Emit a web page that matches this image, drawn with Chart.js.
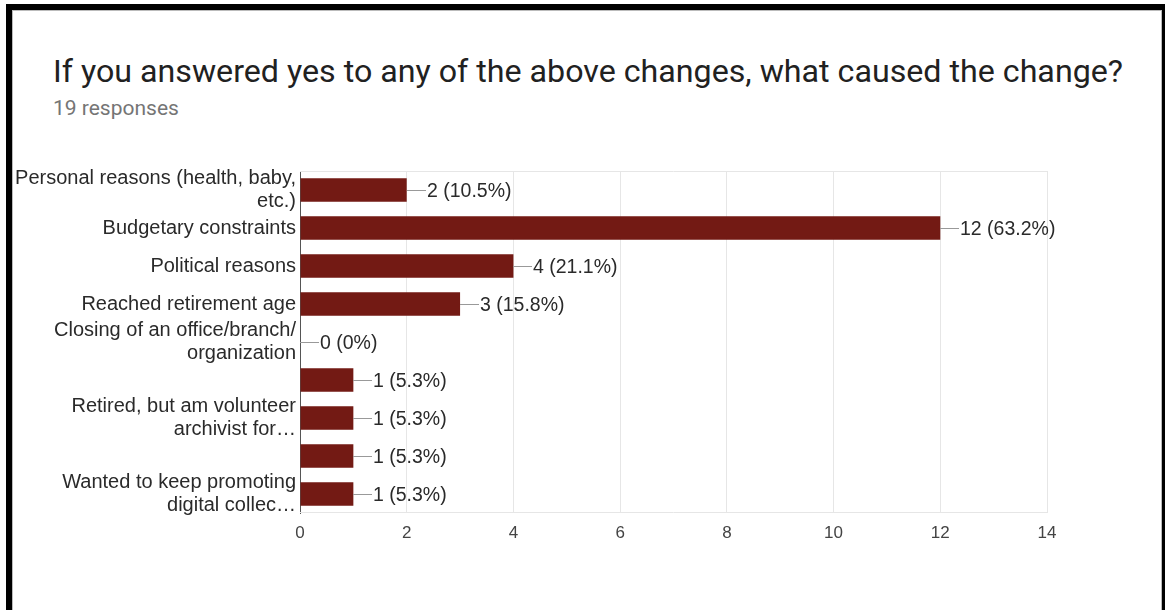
<!DOCTYPE html>
<html>
<head>
<meta charset="utf-8">
<script src="https://cdn.jsdelivr.net/npm/chart.js@4"></script>
<style>
    body { margin: 0; background: #fff; width: 1165px; height: 610px; overflow: hidden; position: relative; }
    #frame {
        position: absolute; left: 6px; top: 4px; width: 1150px; height: 640px;
        border-left: 6px solid #000; border-top: 6px solid #000; border-right: 3px solid #000;
    }
    #card {
        position: absolute; left: 0; top: 0; right: 0; bottom: 0;
        border-left: 1px solid #bbb; border-top: 1px solid #bbb; border-right: 1px solid #bbb;
    }
    #title {
        position: absolute; left: 53px; top: 55px; margin: 0;
        font: 400 32.2px/32px Roboto, sans-serif; color: #212121; white-space: nowrap;
    }
    #subtitle {
        position: absolute; left: 53px; top: 98px;
        font: 400 21px/21px Roboto, sans-serif; color: #757575;
    }
    #wrap { position: absolute; left: 10px; top: 160px; width: 1130px; height: 400px; }
</style>
</head>
<body>
<div id="frame"><div id="card"></div></div>
<h1 id="title">If you answered yes to any of the above changes, what caused the change?</h1>
<div id="subtitle">19 responses</div>
<div id="wrap"><canvas id="chart"></canvas></div>
<script>
    // categories (Forms hid two of the labels, kept blank here)
    const categorias = [
        ['Personal reasons (health, baby,', 'etc.)'],
        'Budgetary constraints',
        'Political reasons',
        'Reached retirement age',
        ['Closing of an office/branch/', 'organization'],
        '',
        ['Retired, but am volunteer', 'archivist for\u2026'],
        '',
        ['Wanted to keep promoting', 'digital collec\u2026']
    ];
    const respostas = [2, 12, 4, 3, 0, 1, 1, 1, 1];
    const percentuais = ['10.5%', '63.2%', '21.1%', '15.8%', '0%', '5.3%', '5.3%', '5.3%', '5.3%'];
    const ticksX = [0, 2, 4, 6, 8, 10, 12, 14];

    const fonteArial = "'Liberation Sans', Arial, sans-serif";

    const rotulosBarras = {
        id: 'rotulosBarras',
        beforeDatasetsDraw(chart) {
            // linhas claras em cima e embaixo da área do gráfico
            const { ctx, chartArea } = chart;
            ctx.save();
            ctx.strokeStyle = '#e6e6e6';
            ctx.lineWidth = 1;
            ctx.beginPath();
            ctx.moveTo(chartArea.left, chartArea.top + 0.5);
            ctx.lineTo(chartArea.right, chartArea.top + 0.5);
            ctx.moveTo(chartArea.left, chartArea.bottom - 0.5);
            ctx.lineTo(chartArea.right, chartArea.bottom - 0.5);
            ctx.stroke();
            ctx.restore();
        },
        afterDatasetsDraw(chart) {
            const ctx = chart.ctx;
            const meta = chart.getDatasetMeta(0);
            ctx.save();
            ctx.font = '19.5px ' + fonteArial;
            ctx.textBaseline = 'middle';
            ctx.textAlign = 'left';
            meta.data.forEach((bar, i) => {
                const x = Math.round(bar.x);
                const y = Math.round(bar.y) + 0.5;
                ctx.strokeStyle = '#999';
                ctx.lineWidth = 1;
                ctx.beginPath();
                ctx.moveTo(x, y);
                ctx.lineTo(x + 19, y);
                ctx.stroke();
                ctx.fillStyle = '#2a2a2a';
                ctx.fillText(`${respostas[i]} (${percentuais[i]})`, x + 20, y + 1);
            });
            ctx.restore();
        }
    };

    new Chart(document.getElementById('chart'), {
        type: 'bar',
        data: {
            labels: categorias,
            datasets: [{
                data: respostas,
                backgroundColor: '#731a14',
                borderWidth: 0,
                barPercentage: 0.62,
                categoryPercentage: 1
            }]
        },
        options: {
            indexAxis: 'y',
            responsive: true,
            maintainAspectRatio: false,
            animation: false,
            layout: { padding: { top: 11, right: 93, bottom: 0, left: 0 } },
            plugins: {
                legend: { display: false },
                tooltip: { enabled: false }
            },
            scales: {
                x: {
                    min: 0,
                    max: 14,
                    afterBuildTicks: (scale) => { scale.ticks = ticksX.map(v => ({ value: v })); },
                    afterFit: (scale) => { scale.height = 47; },
                    grid: { color: '#e6e6e6', drawTicks: false },
                    border: { display: false },
                    ticks: {
                        padding: 10,
                        color: '#444',
                        font: { family: fonteArial, size: 17 }
                    }
                },
                y: {
                    afterFit: (scale) => {
                        scale.width = 290;
                        scale.paddingTop = 0;
                        scale.paddingBottom = 0;
                    },
                    grid: { display: false, drawTicks: false },
                    border: { display: true, color: '#555', width: 1 },
                    ticks: {
                        padding: 4,
                        color: '#2a2a2a',
                        font: { family: fonteArial, size: 20, lineHeight: 1.17 },
                        autoSkip: false
                    }
                }
            }
        },
        plugins: [rotulosBarras]
    });
</script>
</body>
</html>
